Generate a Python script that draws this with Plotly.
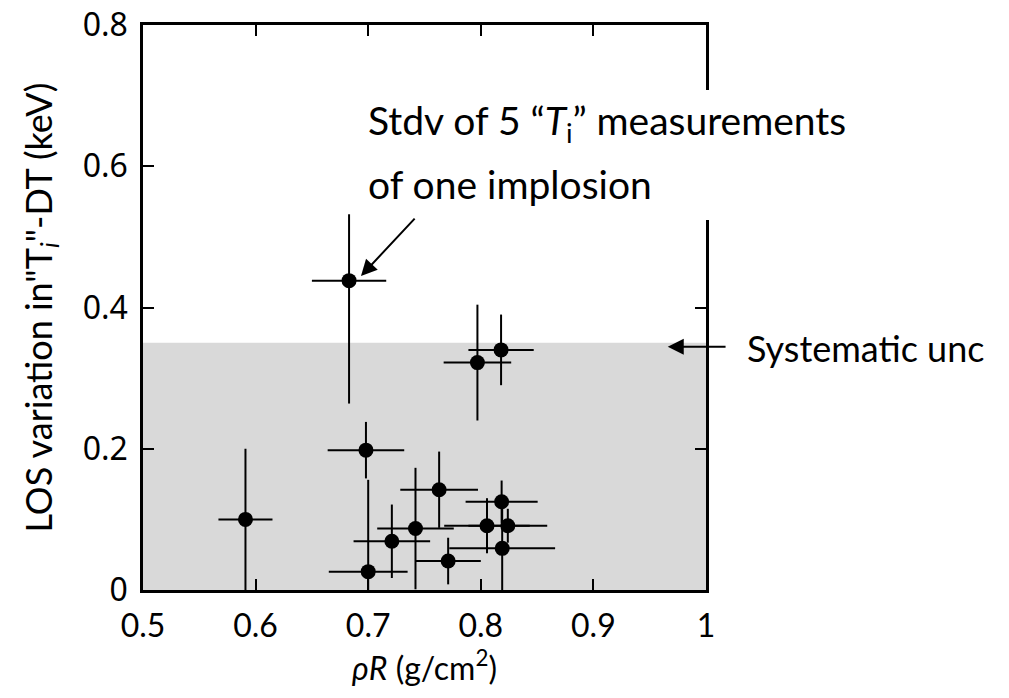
import plotly.graph_objects as go

# rhoR (g/cm2) and its uncertainty
rho_r = [0.683, 0.698, 0.591, 0.700, 0.721, 0.742, 0.763, 0.771,
         0.797, 0.818, 0.8185, 0.824, 0.819, 0.8055]
rho_r_err = [0.033, 0.034, 0.024, 0.035, 0.034, 0.034, 0.0345, 0.029,
             0.030, 0.029, 0.032, 0.035, 0.047, 0.038]

# LOS variation in Ti (keV), with asymmetric error bars
ti_var = [0.438, 0.198, 0.100, 0.026, 0.069, 0.087, 0.142, 0.041,
          0.322, 0.340, 0.125, 0.091, 0.059, 0.091]
ti_err_plus = [0.094, 0.040, 0.100, 0.130, 0.052, 0.086, 0.054, 0.033,
               0.082, 0.050, 0.030, 0.024, 0.070, 0.039]
ti_err_minus = [0.174, 0.040, 0.100, 0.130, 0.052, 0.086, 0.054, 0.033,
                0.082, 0.050, 0.030, 0.024, 0.070, 0.039]

sys_unc = 0.35
x_ticks = [0.5, 0.6, 0.7, 0.8, 0.9, 1]
y_ticks = [0, 0.2, 0.4, 0.6, 0.8]

FONT = 'Lato'
TXT = dict(family=FONT, size=39, color='black')

fig = go.Figure()

fig.add_trace(go.Scatter(
    x=rho_r, y=ti_var, mode='markers',
    marker=dict(color='black', size=15),
    error_x=dict(type='data', array=rho_r_err, color='black',
                 thickness=2, width=0),
    error_y=dict(type='data', array=ti_err_plus, arrayminus=ti_err_minus,
                 symmetric=False, color='black', thickness=2, width=0),
    showlegend=False,
))

# systematic uncertainty band
fig.add_shape(type='rect', xref='x', yref='y', x0=0.5, x1=1, y0=0, y1=sys_unc,
              fillcolor='#d9d9d9', line_width=0, layer='below')

# text box hides part of the right frame
fig.add_shape(type='rect', xref='paper', yref='y', x0=0.975, x1=1.02,
              y0=0.524, y1=0.708, fillcolor='white', line_width=0, layer='above')

fig.add_annotation(x=0.698, y=0.661, xref='x', yref='y', xanchor='left',
                   yanchor='middle', showarrow=False,
                   text='Stdv of 5 \u201c<i>T</i><sub>i</sub>\u201d measurements',
                   font=TXT)
fig.add_annotation(x=0.698, y=0.575, xref='x', yref='y', xanchor='left',
                   yanchor='middle', showarrow=False,
                   text='of one implosion', font=TXT)
fig.add_annotation(x=0.6936, y=0.4446, ax=0.7425, ay=0.528,
                   xref='x', yref='y', axref='x', ayref='y',
                   showarrow=True, arrowhead=2, arrowsize=1.6, arrowwidth=2,
                   arrowcolor='black', text='')

fig.add_annotation(x=0.966, y=0.3445, ax=1.0187, ay=0.3445,
                   xref='x', yref='y', axref='x', ayref='y',
                   showarrow=True, arrowhead=2, arrowsize=1.6, arrowwidth=2,
                   arrowcolor='black', text='')
fig.add_annotation(x=1.069, y=0.343, xref='paper', yref='y', xanchor='left',
                   yanchor='middle', showarrow=False, text='Systematic unc',
                   font=dict(family=FONT, size=36, color='black'))

axis_style = dict(showline=True, linecolor='black', linewidth=2.5,
                  mirror='ticks', ticks='inside', ticklen=11, tickwidth=2,
                  tickcolor='black', showgrid=False, zeroline=False,
                  ticklabeloverflow='allow', automargin=False)

fig.update_xaxes(range=[0.5, 1], tickvals=x_ticks,
                 ticktext=[f'{t:g}' for t in x_ticks],
                 tickfont=dict(family=FONT, size=32, color='black'),
                 ticklabelstandoff=6,
                 title=dict(text='<i>\u03c1R</i> (g/cm<sup>2</sup>)',
                            font=dict(family=FONT, size=32, color='black'),
                            standoff=2),
                 **axis_style)
fig.update_yaxes(range=[0, 0.8], tickvals=y_ticks,
                 ticktext=[f'{t:g}' for t in y_ticks],
                 tickfont=dict(family='Noto Sans', size=32, color='black'),
                 ticklabelstandoff=6,
                 title=dict(text='LOS variation in"T<sub><i>i</i></sub>"-DT (keV)',
                            font=dict(family=FONT, size=36, color='black'),
                            standoff=20),
                 **axis_style)

# the page body adds an 8px margin, so the figure is shrunk to compensate
fig.update_layout(
    width=1001, height=690,
    margin=dict(l=135, r=303, t=17, b=108, autoexpand=False),
    plot_bgcolor='white', paper_bgcolor='white',
)

fig.write_html('out.html')
